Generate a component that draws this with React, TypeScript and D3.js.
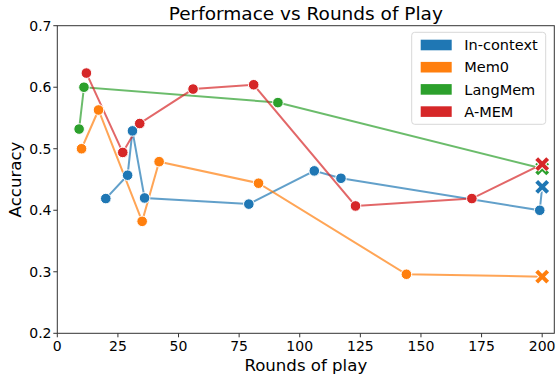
import * as d3 from 'd3'

// series: rounds of play (x) and accuracy (y), final "x" marker at round 200
const seriesNames = ['In-context', 'Mem0', 'LangMem', 'A-MEM']
const colors = ['#1f77b4', '#ff7f0e', '#2ca02c', '#d62728']

const inContextX = [20, 29, 31, 36, 79, 106, 117, 199]
const inContextY = [0.419, 0.457, 0.529, 0.42, 0.41, 0.464, 0.452, 0.4]
const mem0X = [10, 17, 35, 42, 83, 144]
const mem0Y = [0.5, 0.563, 0.382, 0.479, 0.444, 0.296]
const langMemX = [9, 11, 91]
const langMemY = [0.532, 0.6, 0.575]
const aMemX = [12, 27, 34, 56, 81, 123, 171]
const aMemY = [0.623, 0.494, 0.541, 0.597, 0.604, 0.407, 0.419]

const finalRound = 200
const finalY = [0.438, 0.292, 0.468, 0.475]

const xTicks = [0, 25, 50, 75, 100, 125, 150, 175, 200]
const yTicks = [0.2, 0.3, 0.4, 0.5, 0.6, 0.7]

const W = 557
const H = 378
const left = 57.3
const right = 554.3
const top = 25.7
const bottom = 333.3
const font = 'DejaVu Sans, sans-serif'

const App = () => {
  const x = d3.scaleLinear().domain([0, 205]).range([left, right])
  const y = d3.scaleLinear().domain([0.2, 0.7]).range([bottom, top])

  const xs = [inContextX, mem0X, langMemX, aMemX]
  const ys = [inContextY, mem0Y, langMemY, aMemY]

  const line = d3.line<[number, number]>()
    .x(d => x(d[0]))
    .y(d => y(d[1]))

  const series = seriesNames.map((name, i) => {
    const pts: [number, number][] = xs[i].map((v, j) => [v, ys[i][j]])
    return { name, color: colors[i], pts, end: [finalRound, finalY[i]] as [number, number] }
  })

  const cross = (cx: number, cy: number, color: string, key: string) => {
    const s = 5.5
    return (
      <g key={key} transform={`translate(${cx},${cy})`}>
        <path d={`M${-s},${-s}L${s},${s}M${-s},${s}L${s},${-s}`} stroke="white" strokeWidth={6} />
        <path d={`M${-s},${-s}L${s},${s}M${-s},${s}L${s},${-s}`} stroke={color} strokeWidth={4} />
      </g>
    )
  }

  return (
    <svg width={W} height={H} style={{ position: 'fixed', left: 0, top: 0, background: 'white' }} fontFamily={font}>
      <text x={(left + right) / 2} y={20} textAnchor="middle" fontSize={18.5} fill="#000">
        Performace vs Rounds of Play
      </text>

      {series.map(s => (
        <path key={'l' + s.name} d={line([...s.pts, s.end]) || ''} fill="none"
          stroke={s.color} strokeWidth={2} strokeOpacity={0.7} />
      ))}
      {series.map(s => (
        <g key={'m' + s.name}>
          {s.pts.map((p, j) => (
            <circle key={j} cx={x(p[0])} cy={y(p[1])} r={5.3} fill={s.color} stroke="white" strokeWidth={1} />
          ))}
        </g>
      ))}
      {series.map(s => cross(x(s.end[0]), y(s.end[1]), s.color, 'x' + s.name))}

      <rect x={left} y={top} width={right - left} height={bottom - top} fill="none" stroke="#333" strokeWidth={1} />

      {xTicks.map(t => (
        <g key={'xt' + t}>
          <line x1={x(t)} x2={x(t)} y1={bottom} y2={bottom + 4} stroke="#333" strokeWidth={1} />
          <text x={x(t)} y={350.5} textAnchor="middle" fontSize={14} fill="#000">{t}</text>
        </g>
      ))}
      {yTicks.map(t => (
        <g key={'yt' + t}>
          <line x1={left - 4} x2={left} y1={y(t)} y2={y(t)} stroke="#333" strokeWidth={1} />
          <text x={51.5} y={y(t)} dy="0.36em" textAnchor="end" fontSize={14} fill="#000">{t.toFixed(1)}</text>
        </g>
      ))}

      <text x={(left + right) / 2} y={371} textAnchor="middle" fontSize={16.6} fill="#000">Rounds of play</text>
      <text transform={`translate(21,${(top + bottom) / 2}) rotate(-90)`} textAnchor="middle" fontSize={16.6} fill="#000">Accuracy</text>

      <g>
        <rect x={411.7} y={32.3} width={134} height={92} rx={3} fill="white" fillOpacity={0.8} stroke="#d8d8d8" strokeWidth={1} />
        {series.map((s, i) => (
          <g key={'lg' + s.name} transform={`translate(0,${45 + i * 22.2})`}>
            <rect x={420.7} y={-5.3} width={31} height={10.6} fill={s.color} />
            <text x={464.3} y={0} dy="0.36em" fontSize={14.5} fill="#000">{s.name}</text>
          </g>
        ))}
      </g>
    </svg>
  )
}

export default App
